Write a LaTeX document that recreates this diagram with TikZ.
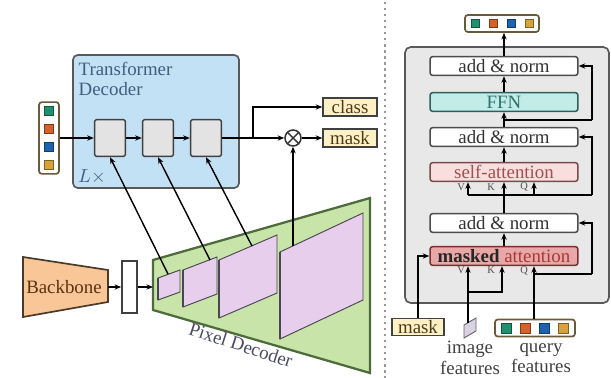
\documentclass[tikz,border=0pt]{standalone}
\usepackage{fontspec}
\setmainfont{Liberation Serif}
\usepackage{xcolor}
\usetikzlibrary{arrows.meta,positioning,calc}

\definecolor{qgreen}{HTML}{1F8F6C}
\definecolor{qorange}{HTML}{D4622A}
\definecolor{qblue}{HTML}{1F63AE}
\definecolor{qyellow}{HTML}{D6A23C}
\definecolor{tblue}{HTML}{C3E1F5}
\definecolor{tdtext}{HTML}{3F5F7F}
\definecolor{cream}{HTML}{FFF1C6}
\definecolor{outtext}{HTML}{4A3A1A}
\definecolor{pdgreen}{HTML}{C8E4A9}
\definecolor{pdedge}{HTML}{4E6B3C}
\definecolor{pdtext}{HTML}{4A4A62}
\definecolor{plane}{HTML}{E6CEEC}
\definecolor{planeedge}{HTML}{4A4650}
\definecolor{bborange}{HTML}{F9C797}
\definecolor{bbedge}{HTML}{4A3A2A}
\definecolor{bbtext}{HTML}{5A3210}
\definecolor{ffnfill}{HTML}{C2ECE8}
\definecolor{ffnedge}{HTML}{2E5E5C}
\definecolor{ffntext}{HTML}{2F6F6C}
\definecolor{safill}{HTML}{F9DEDE}
\definecolor{saedge}{HTML}{7A4A4A}
\definecolor{satext}{HTML}{A05050}
\definecolor{mafill}{HTML}{E9A8A8}
\definecolor{maedge}{HTML}{7A3030}
\definecolor{matext}{HTML}{A83838}
\definecolor{vecedge}{HTML}{6A5A3A}
\definecolor{imgfill}{HTML}{D9D2E3}

\tikzset{
  >={Stealth[length=3.5pt,width=2.8pt]},
  every path/.style={line width=0.75pt},
  layerbox/.style={draw=black!70, line width=0.8pt, rounded corners=1.5pt, fill=white,
    minimum width=78.4pt, minimum height=10pt, inner sep=0pt, text=black!80},
  blk/.style={draw=black!75, fill=gray!22, line width=0.8pt, rounded corners=1pt,
    minimum width=16.4pt, minimum height=19.6pt},
  outbox/.style={draw=black!75, fill=cream, line width=0.8pt, minimum width=28.6pt,
    minimum height=9.5pt, inner sep=0pt, text=outtext},
  vecbox/.style={draw=vecedge, fill=white, line width=0.9pt, rounded corners=1.5pt,
    minimum height=9pt, inner sep=0pt},
  sq/.style={fill=#1, draw=#1!60!black, line width=0.3pt, minimum size=4.8pt, inner sep=0pt},
  tag/.style={font=\fontsize{5.5}{6}\selectfont, text=black!70, inner sep=0pt},
}

\begin{document}
\begin{tikzpicture}[x=0.53pt,y=-0.53pt]
\useasboundingbox (0,0) rectangle (611,378);

% transformer decoder
\draw[fill=tblue, draw=black!65, line width=0.9pt, rounded corners=2.5pt] (73,55) rectangle (239,188);
\node[anchor=north west, align=left, text=tdtext, inner sep=0pt] (tdlabel) at (78,62) {Transformer\\[-1.5pt]Decoder};
\node[text=tdtext] (lx) at (92,177) {$L\times$};

\node[vecbox, minimum width=10.6pt, minimum height=38pt] (qin) at (49,138) {};
\foreach \c/\yy in {qgreen/111, qorange/129, qblue/147, qyellow/165}
  \node[sq=\c] at (49,\yy) {};

\node[blk] (b1) at (110,138) {};
\node[blk] (b2) at (158,138) {};
\node[blk] (b3) at (206,138) {};

\node[circle, draw=black!80, fill=white, line width=0.8pt, minimum size=8.5pt, inner sep=0pt,
  path picture={\draw[black!80] (path picture bounding box.north west) -- (path picture bounding box.south east)
    (path picture bounding box.south west) -- (path picture bounding box.north east);}] (mul) at (293,138) {};
\node[outbox] (cls) at (350,107) {class};
\node[outbox] (msk) at (350,138) {mask};
\coordinate (split) at (253,138);

\draw[->] (qin) -- (b1);
\draw[->] (b1) -- (b2);
\draw[->] (b2) -- (b3);
\draw[->] (b3) -- (mul);
\draw[->] (mul) -- (msk);
\draw[->] (split) |- (cls);

% pixel decoder
\draw[fill=pdgreen, draw=pdedge, line width=1.2pt] (153,260) -- (370,198) -- (370,373) -- (153,310) -- cycle;
\foreach \xa/\ya/\xb/\yb/\h in {158/278/180/270/22, 183/270/217/257/37, 219/260/277/235/58, 280/252/363/213/87}{
  \draw[fill=plane, draw=planeedge, line width=0.5pt] (\xa,\ya) -- (\xb,\yb) -- (\xb,\yb+\h) -- (\xa,\ya+\h) -- cycle;
  \draw[planeedge, line width=1.3pt] (\xa,\ya) -- (\xa,\ya+\h);
}
\node[text=pdtext, rotate=-18] (pdlabel) at (241,345) {Pixel Decoder};

\coordinate (p1) at (168,274);
\coordinate (p2) at (210,260);
\coordinate (p3) at (252,246);
\coordinate (p4) at (293,246);
\draw[->] (p1) -- (b1.south);
\draw[->] (p2) -- (b2.south);
\draw[->] (p3) -- (b3.south);
\draw[->] (p4) -- (mul);

% backbone
\draw[fill=bborange, draw=bbedge, line width=0.9pt] (23,257) -- (108,270) -- (108,302) -- (23,317) -- cycle;
\node[text=bbtext] (bb) at (64,287) {Backbone};
\coordinate (bbout) at (108,287);
\node[draw=black!75, fill=white, line width=0.8pt, minimum width=8pt, minimum height=27.6pt, inner sep=0pt] (neck) at (129.5,287) {};
\coordinate (pdin) at (153,287);
\draw[->] (bbout) -- (neck);
\draw[->] (neck) -- (pdin);

\draw[gray!80, line width=1.1pt, dash pattern=on 1.2pt off 2pt] (385,2) -- (385,378);

% one decoder layer
\draw[fill=gray!18, draw=black!65, line width=0.9pt, rounded corners=3pt] (405,47) rectangle (609,303);

\node[layerbox] (an1) at (504,66) {add \& norm};
\node[layerbox, fill=ffnfill, draw=ffnedge, text=ffntext] (ffn) at (504,102) {FFN};
\node[layerbox] (an2) at (504,137) {add \& norm};
\node[layerbox, fill=safill, draw=saedge, text=satext] (sa) at (504,172) {self-attention};
\node[layerbox] (an3) at (504,223) {add \& norm};
\node[layerbox, fill=mafill, draw=maedge, text=black!85] (ma) at (504,256) {\textbf{masked} \textcolor{matext}{attention}};

\node[vecbox, minimum width=39.2pt] (qout) at (502,23.5) {};
\foreach \c/\xx in {qgreen/475, qorange/493, qblue/511, qyellow/529}
  \node[sq=\c, minimum size=4.2pt] at (\xx,23.5) {};

\foreach \xx/\t in {461/V, 491/K, 524/Q}{
  \node[tag] at (\xx,187) {\t};
  \node[tag] at (\xx,270.5) {\t};
}

\draw[->] (ma) -- (an3);
\draw[->] (an3) -- (sa);
\coordinate (sav) at (468,195);
\coordinate (saq) at (534,195);
\coordinate (r2e) at (592,195);
\draw[->] (sav) -- (sav |- sa.south);
\draw[->] (saq) -- (saq |- sa.south);
\draw (sav) -- (r2e);
\draw[->] (r2e) |- (an2);
\draw[->] (sa) -- (an2);
\draw[->] (an2) -- (ffn);
\coordinate (r1) at (504,120);
\coordinate (r1e) at (592,120);
\draw (r1) -- (r1e);
\draw[->] (r1e) |- (an1);
\draw[->] (ffn) -- (an1);
\draw[->] (an1) -- (an1.north |- qout.south);

% inputs
\node[outbox, minimum width=27.6pt, minimum height=9pt] (mskin) at (418,327) {mask};
\node[vecbox, minimum width=42.4pt] (qf) at (535,328) {};
\foreach \c/\xx in {qgreen/506.5, qorange/525.5, qblue/544.5, qyellow/563.5}
  \node[sq=\c, minimum size=5.3pt] at (\xx,328) {};
\draw[fill=imgfill, draw=black!60, line width=0.5pt] (464,325) -- (476,318) -- (476,331) -- (464,338) -- cycle;
\coordinate (imgtop) at (468,322.5);

\node[align=center, text=black!75] (imgtxt) at (470,358) {image\\[-1pt]features};
\node[align=center, text=black!75] (qtxt) at (541,358) {query\\[-1pt]features};

\draw[->] (mskin.north) |- (ma.west);
\draw[->] (imgtop) -- (imgtop |- ma.south);
\coordinate (kj) at (468,292);
\coordinate (kc) at (502,292);
\draw[->] (kj) -- (kc) -- (kc |- ma.south);
\coordinate (mq) at (534,274);
\coordinate (r3e) at (592,274);
\draw[->] (qf.north -| mq) -- (mq |- ma.south);
\draw (mq) -- (r3e);
\draw[->] (r3e) |- (an3);
\end{tikzpicture}
\end{document}
